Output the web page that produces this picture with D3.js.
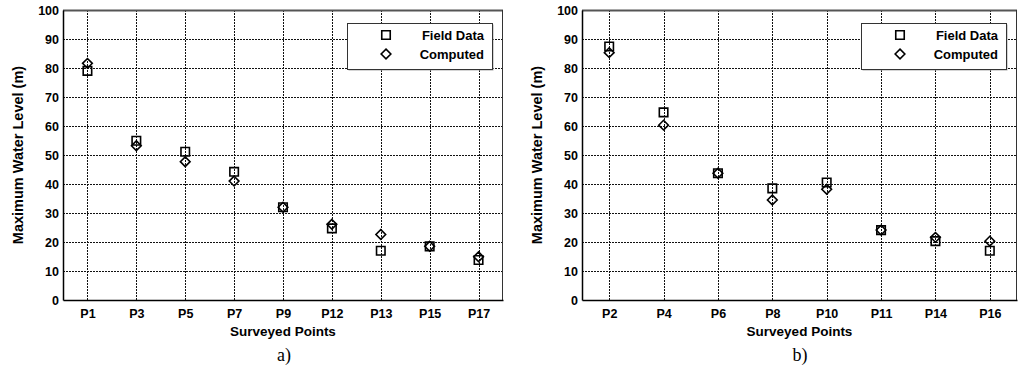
<!DOCTYPE html>
<html><head><meta charset="utf-8">
<script src="https://cdn.jsdelivr.net/npm/d3@7"></script>
<style>
body{margin:0;background:#fff;}
svg{display:block;font-family:"Liberation Sans",Arial,sans-serif;}
</style></head>
<body><svg id="c" width="1020" height="372"></svg>
<script>
const catsA = ["P1","P3","P5","P7","P9","P12","P13","P15","P17"];
const fieldA = [79.0,54.9,51.1,44.2,32.0,24.7,17.0,18.5,13.8];
const compA  = [81.6,53.2,47.7,41.0,32.0,26.1,22.6,18.5,14.9];
const catsB = ["P2","P4","P6","P8","P10","P11","P14","P16"];
const fieldB = [87.4,64.7,43.7,38.5,40.5,24.1,20.3,17.0];
const compB  = [85.3,60.3,43.7,34.5,38.2,24.1,21.6,20.3];
const yTicks = [0,10,20,30,40,50,60,70,80,90,100];
const seriesNames = ["Field Data","Computed"];
const panelLabels = ["a)","b)"];

const svg = d3.select("#c");

function panel(cats, field, comp, x0, x1, label, labelX, yTitleX){
  const top=10, bottom=300;
  const x = d3.scalePoint().domain(cats).range([x0,x1]).padding(0.5);
  const y = d3.scaleLinear().domain([0,100]).range([bottom,top]);
  const g = svg.append("g");
  // grid
  g.selectAll(".hg").data(yTicks.filter(t=>t>0&&t<100)).enter().append("line")
    .attr("x1",x0).attr("x2",x1).attr("y1",d=>y(d)+0.5).attr("y2",d=>y(d)+0.5)
    .attr("stroke","#111").attr("stroke-width",1).attr("stroke-dasharray","2,1");
  g.selectAll(".vg").data(cats).enter().append("line")
    .attr("x1",d=>Math.round(x(d))+0.5).attr("x2",d=>Math.round(x(d))+0.5).attr("y1",top).attr("y2",bottom)
    .attr("stroke","#111").attr("stroke-width",1).attr("stroke-dasharray","2,1");
  // frame
  g.append("line").attr("x1",x0).attr("x2",x1).attr("y1",top+0.5).attr("y2",top+0.5).attr("stroke","#555").attr("stroke-width",2);
  g.append("line").attr("x1",x1-0.5).attr("x2",x1-0.5).attr("y1",top).attr("y2",bottom).attr("stroke","#333").attr("stroke-width",1);
  // axes
  const ya = g.append("g").attr("transform",`translate(${x0},0)`)
    .call(d3.axisLeft(y).tickValues(yTicks).tickSize(0).tickPadding(4));
  ya.select(".domain").attr("stroke","#000").attr("stroke-width",1.5);
  ya.selectAll("text").attr("font-size",12.5).attr("font-weight","bold").attr("fill","#000")
    .attr("font-family","Liberation Sans,Arial,sans-serif");
  const xa = g.append("g").attr("transform",`translate(0,${bottom})`)
    .call(d3.axisBottom(x).tickSize(0).tickPadding(9));
  xa.select(".domain").attr("stroke","#000").attr("stroke-width",1.5);
  xa.selectAll("text").attr("font-size",12.5).attr("font-weight","bold").attr("fill","#000")
    .attr("font-family","Liberation Sans,Arial,sans-serif");
  // titles
  g.append("text").attr("transform",`translate(${yTitleX},${(top+bottom)/2}) rotate(-90)`)
    .attr("text-anchor","middle").attr("font-size",14.5).attr("font-weight","bold").text("Maximum Water Level (m)");
  g.append("text").attr("x",(x0+x1)/2).attr("y",336).attr("text-anchor","middle")
    .attr("font-size",13.5).attr("font-weight","bold").text("Surveyed Points");
  g.append("text").attr("x",labelX).attr("y",361).attr("text-anchor","middle")
    .attr("font-family","Liberation Serif,Times New Roman,serif").attr("font-size",18).text(label);
  // markers
  const sq = d3.symbol().type(d3.symbolSquare).size(72);
  const dm = d3.symbol().type(d3.symbolDiamond2).size(60);
  g.selectAll(".dm").data(comp).enter().append("path")
    .attr("d",dm).attr("transform",(d,i)=>`translate(${x(cats[i])},${y(d)})`)
    .attr("fill","none").attr("stroke","#000").attr("stroke-width",1.6);
  g.selectAll(".sq").data(field).enter().append("path")
    .attr("d",sq).attr("transform",(d,i)=>`translate(${x(cats[i])},${y(d)})`)
    .attr("fill","none").attr("stroke","#000").attr("stroke-width",1.6);
  // legend
  const lx = x1-156, ly=23;
  g.append("rect").attr("x",lx+1.5).attr("y",ly+1.5).attr("width",145).attr("height",46).attr("fill","#aaa");
  g.append("rect").attr("x",lx+0.5).attr("y",ly+0.5).attr("width",145).attr("height",46).attr("fill","#fff").attr("stroke","#333").attr("stroke-width",1);
  g.append("path").attr("d",sq).attr("transform",`translate(${lx+39},${ly+12})`).attr("fill","none").attr("stroke","#000").attr("stroke-width",1.6);
  g.append("path").attr("d",dm).attr("transform",`translate(${lx+39},${ly+31})`).attr("fill","none").attr("stroke","#000").attr("stroke-width",1.6);
  seriesNames.forEach((s,i)=>{
    g.append("text").attr("x",lx+137).attr("y",ly+17+i*19).attr("text-anchor","end")
      .attr("font-size",13).attr("font-weight","bold").text(s);
  });
}
panel(catsA, fieldA, compA, 63, 503, panelLabels[0], 284, 23);
panel(catsB, fieldB, compB, 582, 1017, panelLabels[1], 800, 542);
</script></body></html>
